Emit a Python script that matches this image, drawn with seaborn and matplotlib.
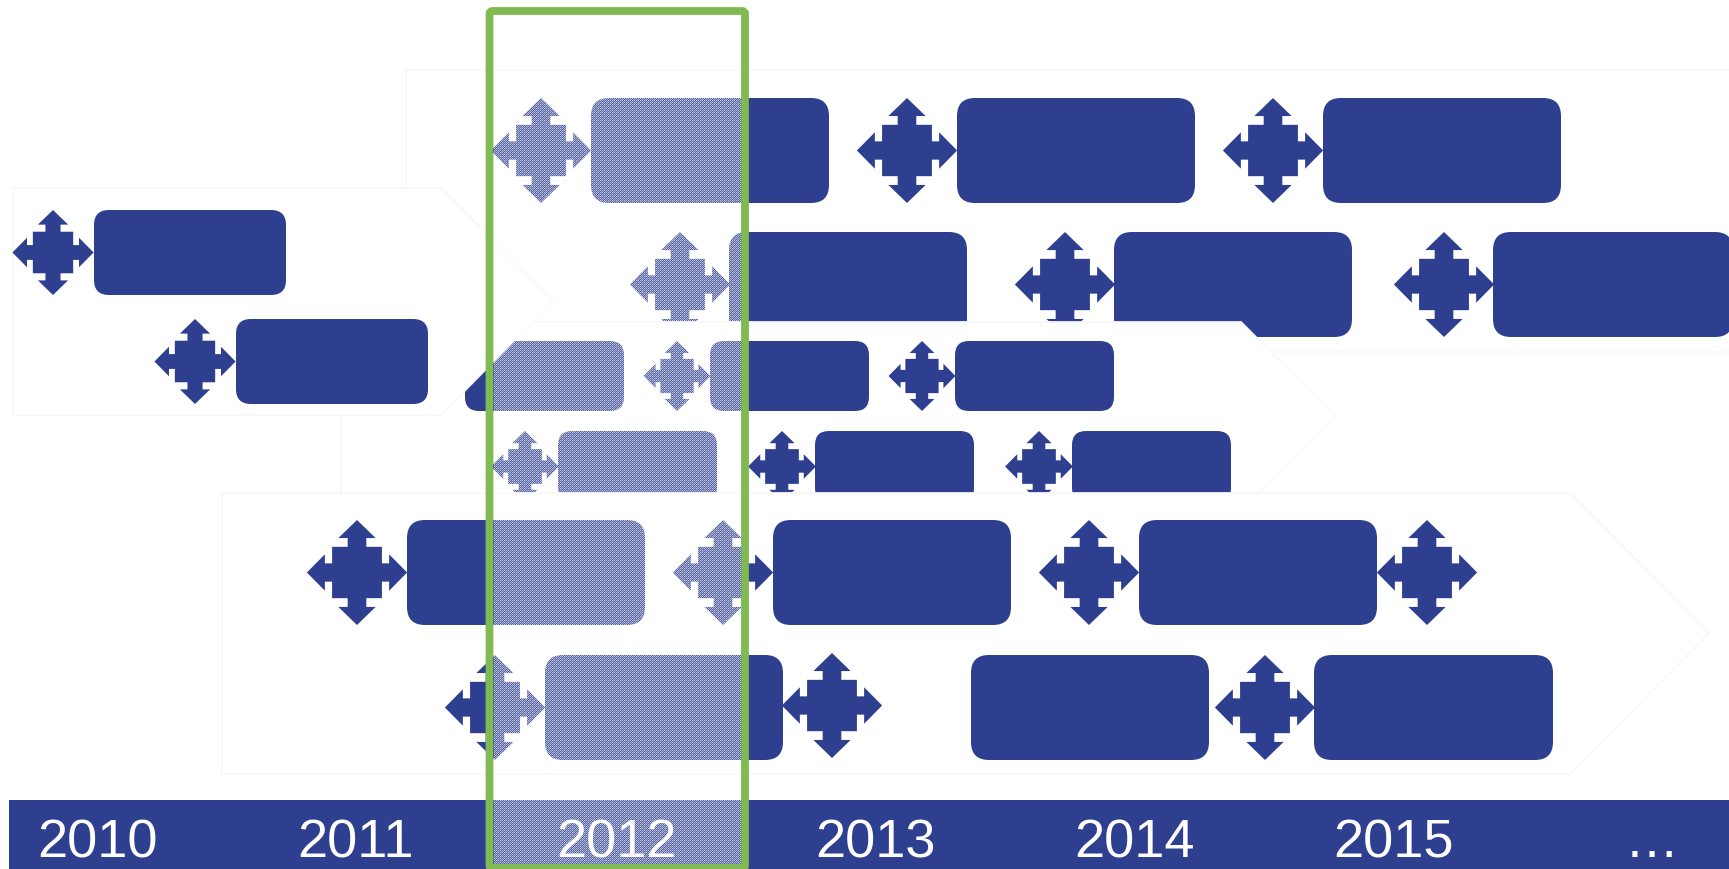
import matplotlib
matplotlib.use("Agg")
import matplotlib.pyplot as plt
from matplotlib.patches import FancyBboxPatch, Polygon, Rectangle
from matplotlib.path import Path
import numpy as np
import seaborn as sns

sns.set_theme(style="white")
plt.rcParams["font.family"] = ["Liberation Sans", "DejaVu Sans"]

NAVY = "#2E3F8F"
GREEN = "#7FBA52"
OUTLINE = "#F8F8F8"

# Timeline labels along the bottom band
year_labels = ["2010", "2011", "2012", "2013", "2014", "2015", "…"]
year_centers = [98, 356, 617, 876, 1135, 1394, 1652]

# Swimlane outlines, painted back to front
lane_top = [[(406, 70), (1800, 70), (1800, 352), (406, 352)]]
lane_middle = [[(341, 322), (1241, 322), (1335, 416), (1241, 510), (341, 510)]]
lane_bottom = [[(222, 493), (1570, 493), (1709, 633), (1570, 774), (222, 774)]]
lane_left = [[(13, 188), (441, 188), (553, 301), (441, 415), (13, 415)]]

# Milestone bars per row: start, end, top, bottom
row_a_bars = [(591, 829), (957, 1195), (1323, 1561)]
row_a_span = (98, 203)
row_b_bars = [(729, 967), (1114, 1352), (1493, 1733)]
row_b_span = (232, 337)
row_a_icons = [541, 907, 1273]
row_b_icons = [680, 1065, 1444]

row_c_bars = [(94, 286)]
row_c_span = (210, 295)
row_d_bars = [(236, 428)]
row_d_span = (319, 404)
row_c_icons = [53]
row_d_icons = [195]

row_e_bars = [(465, 624), (710, 869), (955, 1114)]
row_e_span = (341, 411)
row_f_bars = [(558, 717), (815, 974), (1072, 1231)]
row_f_span = (431, 502)
row_e_icons = [677, 922]
row_f_icons = [525, 782, 1039]

row_g_bars = [(407, 645), (773, 1011), (1139, 1377)]
row_g_span = (520, 625)
row_h_bars = [(545, 783), (971, 1209), (1314, 1553)]
row_h_span = (655, 760)
row_g_icons = [357, 723, 1089, 1427]
row_h_icons = [495, 1265]
row_h_shifted_icons = [832]

# Four-way arrow glyph, half width 1 and half height about 1
arrow_right = [(0.497, 0.174), (0.641, 0.174), (0.641, 0.347), (1, 0), (0.641, -0.347), (0.641, -0.174), (0.497, -0.174)]
arrow_down = [(0.497, -0.489), (0.186, -0.489), (0.186, -0.656), (0.372, -0.656), (0, -1), (-0.372, -0.656), (-0.186, -0.656), (-0.186, -0.489), (-0.497, -0.489)]
arrow_left = [(-0.497, -0.174), (-0.641, -0.174), (-0.641, -0.347), (-1, 0), (-0.641, 0.347), (-0.641, 0.174), (-0.497, 0.174)]
arrow_up = [(-0.497, 0.489), (-0.186, 0.489), (-0.186, 0.656), (-0.372, 0.656), (0, 1), (0.372, 0.656), (0.186, 0.656), (0.186, 0.489), (0.497, 0.489)]
outline = arrow_right + arrow_down + arrow_left + arrow_up
# Icons are a little taller than wide
glyph = Path(np.array(outline + [outline[0]]) * np.array([0.955, 1.0]), closed=True)

fig = plt.figure(figsize=(17.29, 8.69), dpi=100, facecolor="white")
ax = fig.add_axes([0, 0, 1, 1])


def draw_lane(shape, z):
    ax.add_patch(Polygon(shape, closed=True, facecolor="white", edgecolor=OUTLINE,
                         linewidth=1.3, zorder=z))


def draw_row(bars, span, icons, z, radius):
    top, bottom = span
    for start, end in bars:
        ax.add_patch(FancyBboxPatch((start, top), end - start, bottom - top,
                                    boxstyle=f"round,pad=0,rounding_size={radius}",
                                    facecolor=NAVY, edgecolor="none", zorder=z))
    if icons:
        # Marker size in points squared, from the icon height in pixels
        side_pt = (bottom - top) * 72 / fig.dpi
        sns.scatterplot(x=icons, y=[(top + bottom) / 2] * len(icons), ax=ax,
                        marker=glyph, s=side_pt ** 2, color=NAVY,
                        linewidth=0, edgecolor="none", zorder=z, legend=False)


draw_lane(lane_top[0], 10)
draw_row(row_a_bars, row_a_span, row_a_icons, 11, 18)
draw_row(row_b_bars, row_b_span, row_b_icons, 11, 18)

draw_lane(lane_middle[0], 20)
draw_row(row_e_bars, row_e_span, row_e_icons, 21, 14)
draw_row(row_f_bars, row_f_span, row_f_icons, 21, 14)

draw_lane(lane_bottom[0], 30)
draw_row(row_g_bars, row_g_span, row_g_icons, 31, 18)
draw_row(row_h_bars, row_h_span, row_h_icons, 31, 18)
draw_row([], (653, 758), row_h_shifted_icons, 31, 18)

draw_lane(lane_left[0], 40)
draw_row(row_c_bars, row_c_span, row_c_icons, 41, 15)
draw_row(row_d_bars, row_d_span, row_d_icons, 41, 15)

# Year band across the bottom
ax.add_patch(Rectangle((9, 800), 1725, 72, facecolor=NAVY, edgecolor="none", zorder=90))

# Woven white screen over the highlighted year
x0, x1, y0, y1 = 494, 741, 0, 869
tile = np.array([[0.70, 0.15, 0.70, 0.30],
                 [0.15, 0.55, 0.25, 0.55],
                 [0.70, 0.25, 0.70, 0.15],
                 [0.30, 0.55, 0.15, 0.55]])
alpha = np.tile(tile, ((y1 - y0) // 4 + 1, (x1 - x0) // 4 + 1))[: y1 - y0, : x1 - x0]
screen = np.ones(alpha.shape + (4,))
screen[..., 3] = alpha
ax.imshow(screen, extent=(x0, x1, y1, y0), interpolation="nearest", aspect="auto", zorder=100)

# Highlight frame around 2012
ax.add_patch(FancyBboxPatch((489.5, 11), 255.5, 857,
                            boxstyle="round,pad=0,rounding_size=3",
                            facecolor="none", edgecolor=GREEN, linewidth=5.6, zorder=110))

for label, center in zip(year_labels, year_centers):
    ax.text(center, 843, label, color="white", fontsize=39, ha="center", va="center", zorder=120)

ax.set_xlim(0, 1729)
ax.set_ylim(869, 0)
ax.set_axis_off()
fig.savefig("out.png", dpi=100, facecolor="white")
